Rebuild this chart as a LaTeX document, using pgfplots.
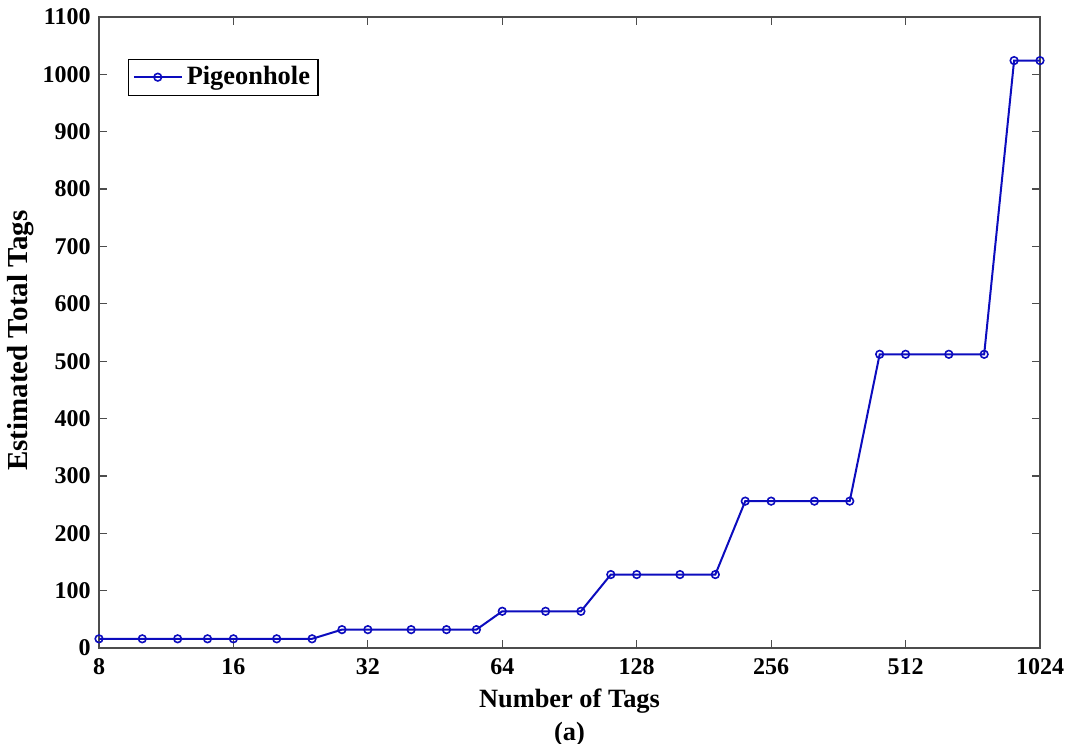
\documentclass[border=0pt]{standalone}
\usepackage{pgfplots}
\pgfplotsset{compat=1.18}
\usepackage{fontspec}
\setmainfont{Liberation Serif}
\definecolor{lineblue}{RGB}{12,12,190}
\begin{document}
\fontsize{12}{14}\selectfont\bfseries
\begin{tikzpicture}
\useasboundingbox (0,0) rectangle (536pt,372pt);
\begin{axis}[
  at={(49.5pt,48pt)}, anchor=south west,
  scale only axis, width=470.5pt, height=315.5pt,
  xmode=log, log basis x=2,
  xmin=8, xmax=1024, ymin=0, ymax=1100,
  xtick={8,16,32,64,128,256,512,1024},
  xticklabels={8,16,32,64,128,256,512,1024},
  ytick={0,100,...,1100},
  /pgf/number format/assume math mode=true,
  /pgf/number format/1000 sep={},
  tick align=inside, major tick length=4pt,
  axis line style={black!70, line width=0.6pt},
  every tick/.style={black!70, line width=0.6pt},
  tick label style={font=\fontsize{12}{14}\selectfont\bfseries, text=black},
  xticklabel style={yshift=-1pt},
  xlabel={Number of Tags\\(a)},
  xlabel style={align=center, yshift=1pt, font=\fontsize{13.2}{16.5}\selectfont\bfseries},
  ylabel={Estimated Total Tags},
  ylabel style={font=\fontsize{14.5}{16}\selectfont\bfseries, yshift=-4pt, at={(ticklabel cs:0.487)}},
  legend style={at={(0.031,0.934)}, anchor=north west, draw=black, line width=0.6pt,
    font=\fontsize{13.2}{15}\selectfont\bfseries, inner xsep=2pt, inner ysep=1.5pt},
  legend cell align=left,
  legend image code/.code={
    \draw[#1] (0pt,0pt) -- (24pt,0pt);
    \draw[#1, only marks] plot coordinates {(12pt,0pt)};
  },
]
\addplot[color=lineblue, line width=1pt, mark=o, mark size=1.9pt,
  mark options={line width=0.8pt}] coordinates {
(8,16) (10,16) (12,16) (14,16) (16,16) (20,16) (24,16)
(28,32) (32,32) (40,32) (48,32) (56,32)
(64,64) (80,64) (96,64)
(112,128) (128,128) (160,128) (192,128)
(224,256) (256,256) (320,256) (384,256)
(448,512) (512,512) (640,512) (768,512)
(896,1024) (1024,1024)
};
\addlegendentry{Pigeonhole}
\end{axis}
\end{tikzpicture}
\end{document}
